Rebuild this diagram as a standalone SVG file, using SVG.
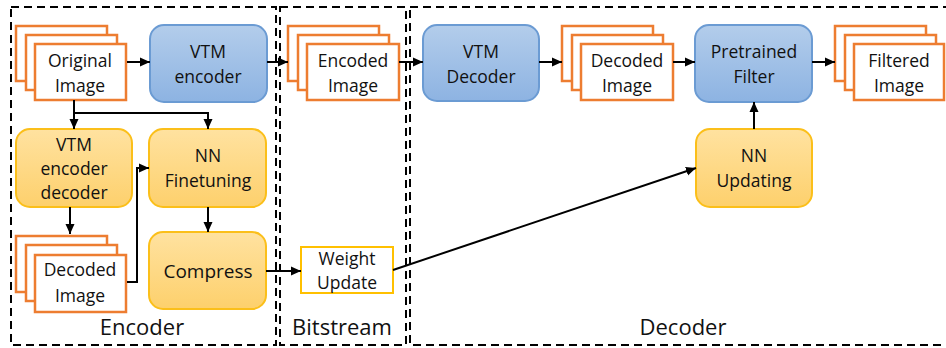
<svg xmlns="http://www.w3.org/2000/svg" width="946" height="348" viewBox="0 0 946 348">
<defs>
<linearGradient id="gb" x1="0" y1="0" x2="0" y2="1"><stop offset="0" stop-color="#b3cdeb"/><stop offset="1" stop-color="#8db3e2"/></linearGradient>
<linearGradient id="go" x1="0" y1="0" x2="0" y2="1"><stop offset="0" stop-color="#ffe2a0"/><stop offset="1" stop-color="#fdd06c"/></linearGradient>
<marker id="ah" viewBox="0 0 10 10" refX="10" refY="5" markerWidth="10" markerHeight="10" markerUnits="userSpaceOnUse" orient="auto"><path d="M0,0.5 L10,5 L0,9.5 z" fill="#000"/></marker>
<style>
.dash{fill:none;stroke:#000;stroke-width:2;stroke-dasharray:8 5}
.blue{fill:url(#gb);stroke:#6b9bd3;stroke-width:2}
.orng{fill:url(#go);stroke:#fbbf1a;stroke-width:2}
.img{fill:#fff;stroke:#ed7d31;stroke-width:2.5}
.wu{fill:#fff;stroke:#ffc000;stroke-width:2}
.t{font-family:"Open Sans","Noto Sans",sans-serif;font-size:17.5px;fill:#111;text-anchor:middle}
.tb{font-family:"Open Sans","Noto Sans",sans-serif;font-size:19px;fill:#111;text-anchor:middle}
.lbl{font-family:"Open Sans","Noto Sans",sans-serif;font-size:22px;fill:#111;text-anchor:middle}
.c{fill:none;stroke:#000;stroke-width:2;marker-end:url(#ah)}
.cn{fill:none;stroke:#000;stroke-width:2}
</style>
</defs>
<g id="regions">
<rect class="dash" x="11" y="7" width="265" height="338"/>
<rect class="dash" x="280" y="7" width="126" height="338"/>
<rect class="dash" x="410" y="7" width="545" height="338"/>
<text class="lbl" x="142" y="335">Encoder</text>
<text class="lbl" x="342" y="335">Bitstream</text>
<text class="lbl" x="683" y="335">Decoder</text>
</g>
<g id="original-image">
<rect class="img" x="16" y="26" width="91" height="55"/>
<rect class="img" x="26" y="35" width="91" height="55"/>
<rect class="img" x="35" y="44" width="91" height="56"/>
<text class="t" x="80" y="67">Original</text>
<text class="t" x="80" y="92">Image</text>
</g>
<g id="vtm-encoder">
<rect class="blue" x="150" y="25" width="117" height="77" rx="14"/>
<text class="t" x="208" y="58">VTM</text>
<text class="t" x="208" y="83">encoder</text>
</g>
<g id="vtm-encoder-decoder">
<rect class="orng" x="16" y="129" width="116" height="78" rx="14"/>
<text class="t" x="74" y="151">VTM</text>
<text class="t" x="74" y="175">encoder</text>
<text class="t" x="74" y="199">decoder</text>
</g>
<g id="nn-finetuning">
<rect class="orng" x="149" y="129" width="117" height="78" rx="14"/>
<text class="t" x="208" y="162">NN</text>
<text class="t" x="208" y="187">Finetuning</text>
</g>
<g id="decoded-image-enc">
<rect class="img" x="16" y="236" width="91" height="56"/>
<rect class="img" x="26" y="245" width="91" height="56"/>
<rect class="img" x="35" y="255" width="91" height="57"/>
<text class="t" x="80" y="276">Decoded</text>
<text class="t" x="80" y="302">Image</text>
</g>
<g id="compress">
<rect class="orng" x="149" y="232" width="117" height="77" rx="14"/>
<text class="tb" x="208" y="278">Compress</text>
</g>
<g id="encoded-image">
<rect class="img" x="288" y="26" width="91" height="55"/>
<rect class="img" x="298" y="35" width="91" height="55"/>
<rect class="img" x="307" y="44" width="92" height="56"/>
<text class="t" x="353" y="67">Encoded</text>
<text class="t" x="353" y="92">Image</text>
</g>
<g id="weight-update">
<rect class="wu" x="301" y="247" width="92" height="46"/>
<text class="t" x="347" y="265">Weight</text>
<text class="t" x="347" y="289">Update</text>
</g>
<g id="vtm-decoder">
<rect class="blue" x="423" y="25" width="116" height="76" rx="14"/>
<text class="t" x="481" y="58">VTM</text>
<text class="t" x="481" y="83">Decoder</text>
</g>
<g id="decoded-image-dec">
<rect class="img" x="562" y="26" width="91" height="55"/>
<rect class="img" x="572" y="35" width="91" height="55"/>
<rect class="img" x="581" y="44" width="92" height="56"/>
<text class="t" x="627" y="67">Decoded</text>
<text class="t" x="627" y="92">Image</text>
</g>
<g id="pretrained-filter">
<rect class="blue" x="695" y="25" width="117" height="77" rx="14"/>
<text class="t" x="754" y="58">Pretrained</text>
<text class="t" x="754" y="83">Filter</text>
</g>
<g id="filtered-image">
<rect class="img" x="835" y="26" width="91" height="55"/>
<rect class="img" x="845" y="35" width="91" height="55"/>
<rect class="img" x="854" y="44" width="90" height="56"/>
<text class="t" x="899" y="67">Filtered</text>
<text class="t" x="899" y="92">Image</text>
</g>
<g id="nn-updating">
<rect class="orng" x="696" y="129" width="116" height="78" rx="14"/>
<text class="t" x="754" y="162">NN</text>
<text class="t" x="754" y="187">Updating</text>
</g>
<g id="connectors">
<path class="c" d="M127,62 H150"/>
<path class="c" d="M267,62 H288"/>
<path class="c" d="M399,62 H423"/>
<path class="c" d="M539,62 H562"/>
<path class="c" d="M673,62 H695"/>
<path class="c" d="M812,62 H835"/>
<path class="cn" d="M74,100 V113"/>
<path class="c" d="M74,112 V129"/>
<path class="c" d="M73,113 H208 V129"/>
<path class="c" d="M70,207 V234"/>
<path class="c" d="M127,282 H137 V168 H149"/>
<path class="c" d="M208,207 V232"/>
<path class="c" d="M266,271 H301"/>
<path class="c" d="M393,270 L696,168"/>
<path class="c" d="M754,129 V102"/>
</g>
</svg>
